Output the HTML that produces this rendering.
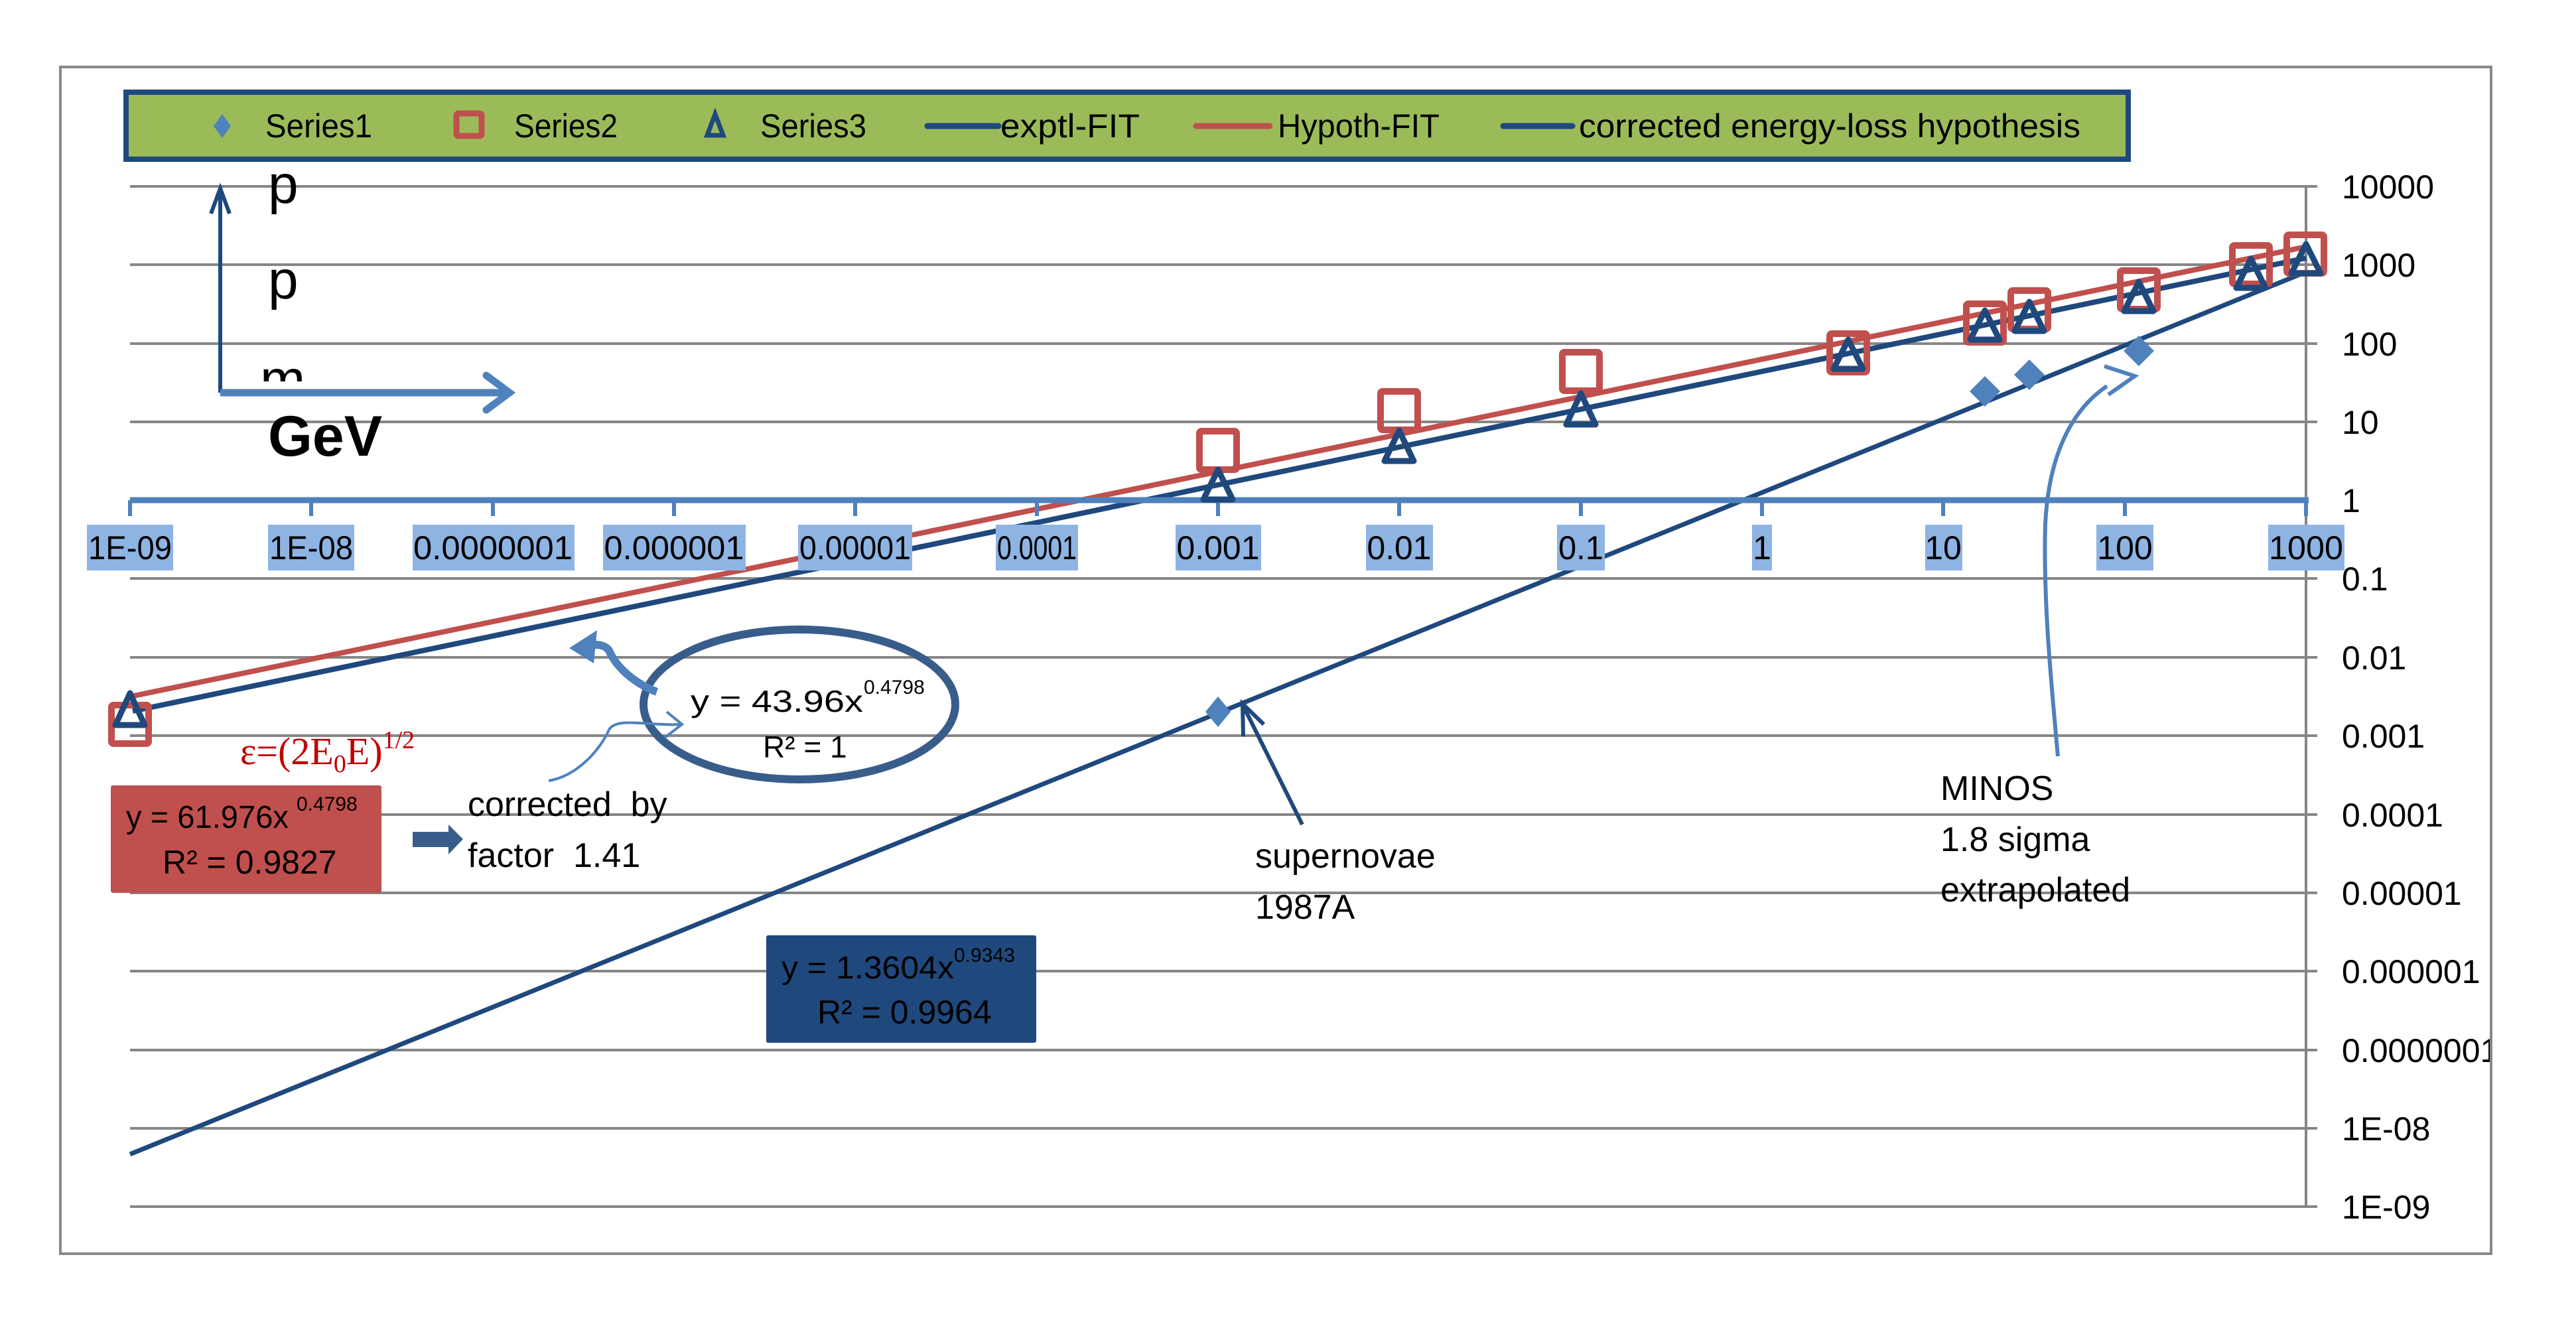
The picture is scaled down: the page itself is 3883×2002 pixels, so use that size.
<!DOCTYPE html>
<html><head><meta charset="utf-8"><style>
html,body{margin:0;padding:0;background:#fff;}
svg{display:block;font-family:"Liberation Sans",sans-serif;}
</style></head><body>
<svg width="3883" height="2002" viewBox="0 0 3883 2002" xmlns="http://www.w3.org/2000/svg">
<defs><clipPath id="fr"><rect x="91" y="101" width="3662" height="1789"/></clipPath></defs>
<rect x="91" y="101" width="3664" height="1789" fill="#fff" stroke="#888" stroke-width="4"/>
<!-- gridlines -->
<g stroke="#868686" stroke-width="4">
<line x1="196" y1="281" x2="3493" y2="281"/>
<line x1="196" y1="399" x2="3493" y2="399"/>
<line x1="196" y1="518" x2="3493" y2="518"/>
<line x1="196" y1="636" x2="3493" y2="636"/>
<line x1="196" y1="872" x2="3493" y2="872"/>
<line x1="196" y1="991" x2="3493" y2="991"/>
<line x1="196" y1="1109" x2="3493" y2="1109"/>
<line x1="196" y1="1228" x2="3493" y2="1228"/>
<line x1="196" y1="1346" x2="3493" y2="1346"/>
<line x1="196" y1="1464" x2="3493" y2="1464"/>
<line x1="196" y1="1583" x2="3493" y2="1583"/>
<line x1="196" y1="1701" x2="3493" y2="1701"/>
<line x1="196" y1="1819" x2="3493" y2="1819"/>
<line x1="3476" y1="281" x2="3476" y2="1819"/>
</g>
<!-- y labels -->
<g font-size="50" fill="#000" clip-path="url(#fr)">
<text x="3530" y="299">10000</text>
<text x="3530" y="417">1000</text>
<text x="3530" y="536">100</text>
<text x="3530" y="654">10</text>
<text x="3530" y="772">1</text>
<text x="3530" y="890">0.1</text>
<text x="3530" y="1009">0.01</text>
<text x="3530" y="1127">0.001</text>
<text x="3530" y="1246">0.0001</text>
<text x="3530" y="1364">0.00001</text>
<text x="3530" y="1482">0.000001</text>
<text x="3530" y="1601">0.0000001</text>
<text x="3530" y="1719">1E-08</text>
<text x="3530" y="1837">1E-09</text>
</g>
<!-- fit lines -->
<line x1="197" y1="1050" x2="3476" y2="372" stroke="#c0504d" stroke-width="8"/>
<line x1="200" y1="1072" x2="3476" y2="389" stroke="#1f497d" stroke-width="8"/>
<line x1="196" y1="1740" x2="3476" y2="410" stroke="#1f497d" stroke-width="7"/>
<!-- x axis -->
<line x1="196" y1="754" x2="3480" y2="754" stroke="#4f81bd" stroke-width="9"/>
<g stroke="#4f81bd" stroke-width="6">
<line x1="196" y1="754" x2="196" y2="778"/><line x1="469" y1="754" x2="469" y2="778"/>
<line x1="743" y1="754" x2="743" y2="778"/><line x1="1016" y1="754" x2="1016" y2="778"/>
<line x1="1289" y1="754" x2="1289" y2="778"/><line x1="1563" y1="754" x2="1563" y2="778"/>
<line x1="1836" y1="754" x2="1836" y2="778"/><line x1="2109" y1="754" x2="2109" y2="778"/>
<line x1="2383" y1="754" x2="2383" y2="778"/><line x1="2656" y1="754" x2="2656" y2="778"/>
<line x1="2929" y1="754" x2="2929" y2="778"/><line x1="3203" y1="754" x2="3203" y2="778"/>
<line x1="3476" y1="754" x2="3476" y2="778"/>
</g>
<g fill="#8eb4e3">
<rect x="131" y="791" width="130" height="69"/>
<rect x="404" y="791" width="130" height="69"/>
<rect x="622" y="791" width="244" height="69"/>
<rect x="909" y="791" width="215" height="69"/>
<rect x="1203" y="791" width="172" height="69"/>
<rect x="1501" y="791" width="124" height="69"/>
<rect x="1772" y="791" width="129" height="69"/>
<rect x="2059" y="791" width="101" height="69"/>
<rect x="2347" y="791" width="72" height="69"/>
<rect x="2641" y="791" width="30" height="69"/>
<rect x="2902" y="791" width="56" height="69"/>
<rect x="3160" y="791" width="86" height="69"/>
<rect x="3419" y="791" width="115" height="69"/>
</g>
<g font-size="50" fill="#000" text-anchor="middle">
<text x="196" y="843" textLength="126" lengthAdjust="spacingAndGlyphs">1E-09</text>
<text x="469" y="843" textLength="126" lengthAdjust="spacingAndGlyphs">1E-08</text>
<text x="743" y="843" textLength="240" lengthAdjust="spacingAndGlyphs">0.0000001</text>
<text x="1016" y="843" textLength="211" lengthAdjust="spacingAndGlyphs">0.000001</text>
<text x="1289" y="843" textLength="168" lengthAdjust="spacingAndGlyphs">0.00001</text>
<text x="1563" y="843" textLength="120" lengthAdjust="spacingAndGlyphs">0.0001</text>
<text x="1836" y="843" textLength="125" lengthAdjust="spacingAndGlyphs">0.001</text>
<text x="2109" y="843" textLength="97" lengthAdjust="spacingAndGlyphs">0.01</text>
<text x="2383" y="843" textLength="68" lengthAdjust="spacingAndGlyphs">0.1</text>
<text x="2656" y="843">1</text>
<text x="2929" y="843">10</text>
<text x="3203" y="843">100</text>
<text x="3476" y="843" textLength="112" lengthAdjust="spacingAndGlyphs">1000</text>
</g>
<!-- squares -->
<g fill="none" stroke="#c0504d" stroke-width="10">
<rect x="168" y="1063" width="56" height="58" rx="3"/>
<rect x="1808" y="650" width="56" height="58" rx="3"/>
<rect x="2081" y="590" width="56" height="58" rx="3"/>
<rect x="2355" y="531" width="56" height="58" rx="3"/>
<rect x="2758" y="503" width="56" height="58" rx="3"/>
<rect x="2964" y="458" width="56" height="58" rx="3"/>
<rect x="3031" y="438" width="56" height="58" rx="3"/>
<rect x="3196" y="408" width="56" height="58" rx="3"/>
<rect x="3365" y="370" width="56" height="58" rx="3"/>
<rect x="3447" y="354" width="56" height="58" rx="3"/>
</g>
<!-- triangles -->
<g fill="none" stroke="#1f497d" stroke-width="9" stroke-linejoin="round">
<polygon points="196,1045 174,1093 218,1093"/>
<polygon points="1836,708 1814,753 1858,753"/>
<polygon points="2109,649 2087,695 2131,695"/>
<polygon points="2383,593 2361,640 2405,640"/>
<polygon points="2786,512 2764,556 2808,556"/>
<polygon points="2992,468 2970,512 3014,512"/>
<polygon points="3059,455 3037,499 3081,499"/>
<polygon points="3224,425 3202,469 3246,469"/>
<polygon points="3393,390 3371,434 3415,434"/>
<polygon points="3476,368 3454,412 3498,412"/>
</g>
<!-- diamonds -->
<g fill="#4f81bd">
<polygon points="1836,1050 1855,1073 1836,1096 1817,1073"/>
<polygon points="2992,567 3015,590 2992,613 2969,590"/>
<polygon points="3059,542 3082,565 3059,588 3036,565"/>
<polygon points="3224,506 3247,529 3224,552 3201,529"/>
</g>
<!-- legend -->
<rect x="190" y="139" width="3018" height="101" fill="#9bbb59" stroke="#1f497d" stroke-width="8"/>
<polygon points="335,172 348,190 335,208 322,190" fill="#4f81bd"/>
<rect x="688" y="171" width="38" height="34" fill="none" stroke="#c0504d" stroke-width="9" rx="3"/>
<polygon points="1078,172 1066,204 1090,204" fill="none" stroke="#1f497d" stroke-width="7"/>
<line x1="1398" y1="190" x2="1505" y2="190" stroke="#1f497d" stroke-width="9" stroke-linecap="round"/>
<line x1="1803" y1="190" x2="1914" y2="190" stroke="#c0504d" stroke-width="9" stroke-linecap="round"/>
<line x1="2266" y1="190" x2="2370" y2="190" stroke="#1f497d" stroke-width="9" stroke-linecap="round"/>
<g font-size="50" fill="#000">
<text x="400" y="207" textLength="161" lengthAdjust="spacingAndGlyphs">Series1</text>
<text x="775" y="207" textLength="156" lengthAdjust="spacingAndGlyphs">Series2</text>
<text x="1146" y="207" textLength="160" lengthAdjust="spacingAndGlyphs">Series3</text>
<text x="1508" y="207" textLength="210" lengthAdjust="spacingAndGlyphs">exptl-FIT</text>
<text x="1926" y="207" textLength="244" lengthAdjust="spacingAndGlyphs">Hypoth-FIT</text>
<text x="2380" y="207" textLength="756" lengthAdjust="spacingAndGlyphs">corrected energy-loss hypothesis</text>
</g>
<!-- axis annotation -->
<g font-size="82" fill="#000">
<text x="404" y="306">p</text>
<text x="404" y="450">p</text>
<text x="392" y="600">m</text>
</g>
<rect x="380" y="575" width="160" height="40" fill="#fff"/>
<line x1="332" y1="290" x2="332" y2="592" stroke="#1f497d" stroke-width="6"/>
<polyline points="318,322 332,284 346,322" fill="none" stroke="#1f497d" stroke-width="6"/>
<line x1="332" y1="592" x2="770" y2="592" stroke="#4f81bd" stroke-width="11"/>
<polyline points="733,566 768,592 733,618" fill="none" stroke="#4f81bd" stroke-width="11" stroke-linecap="round"/>
<text x="404" y="687" font-size="86" font-weight="bold" fill="#000">GeV</text>
<!-- ellipse annotation -->
<ellipse cx="1205" cy="1062" rx="235" ry="113" fill="none" stroke="#385d8a" stroke-width="12"/>
<text x="1041" y="1073" font-size="46" fill="#000" textLength="260" lengthAdjust="spacingAndGlyphs">y = 43.96x</text>
<text x="1302" y="1046" font-size="30" fill="#000">0.4798</text>
<text x="1150" y="1142" font-size="46" fill="#000">R² = 1</text>
<path d="M990,1043 C955,1030 930,1005 920,985 C915,970 895,970 880,975" fill="none" stroke="#4f81bd" stroke-width="12"/>
<polygon points="858,977 900,950 895,1000" fill="#4f81bd"/>
<path d="M827,1177 C870,1170 905,1130 918,1100 C930,1080 980,1095 1028,1092" fill="none" stroke="#4f81bd" stroke-width="4"/>
<polyline points="1005,1073 1028,1092 1002,1112" fill="none" stroke="#4f81bd" stroke-width="4"/>
<!-- epsilon -->
<text x="362" y="1152" font-family="Liberation Serif,serif" font-size="58" fill="#c00000">ε=(2E<tspan font-size="38" dy="12">0</tspan><tspan dy="-12">E)</tspan><tspan font-size="38" dy="-24">1/2</tspan></text>
<!-- red box -->
<rect x="167" y="1184" width="408" height="162" fill="#c0504d" rx="3"/>
<text x="190" y="1248" font-size="48" fill="#000" textLength="245" lengthAdjust="spacingAndGlyphs">y = 61.976x</text>
<text x="447" y="1222" font-size="30" fill="#000">0.4798</text>
<text x="245" y="1317" font-size="50" fill="#000">R² = 0.9827</text>
<!-- fat arrow -->
<polygon points="622,1254 676,1254 676,1243 698,1265 676,1288 676,1277 622,1277" fill="#385d8a"/>
<text x="705" y="1230" font-size="52" fill="#000" xml:space="preserve">corrected  by</text>
<text x="705" y="1307" font-size="52" fill="#000" xml:space="preserve">factor  1.41</text>
<!-- blue box -->
<rect x="1155" y="1410" width="407" height="162" fill="#1f497d" rx="3"/>
<text x="1178" y="1475" font-size="48" fill="#000" textLength="260" lengthAdjust="spacingAndGlyphs">y = 1.3604x</text>
<text x="1438" y="1450" font-size="30" fill="#000">0.9343</text>
<text x="1232" y="1543" font-size="50" fill="#000">R² = 0.9964</text>
<!-- supernovae -->
<line x1="1963" y1="1243" x2="1876" y2="1068" stroke="#1f497d" stroke-width="6"/>
<polyline points="1874,1110 1873,1061 1905,1092" fill="none" stroke="#1f497d" stroke-width="6"/>
<text x="1892" y="1308" font-size="52" fill="#000">supernovae</text>
<text x="1892" y="1385" font-size="52" fill="#000">1987A</text>
<!-- MINOS -->
<path d="M3102,1140 C3090,1010 3080,900 3083,790 C3088,690 3120,620 3176,582" fill="none" stroke="#4f81bd" stroke-width="6"/>
<polyline points="3172,552 3218,567 3178,595" fill="none" stroke="#4f81bd" stroke-width="6"/>
<text x="2925" y="1206" font-size="52" fill="#000">MINOS</text>
<text x="2925" y="1283" font-size="52" fill="#000">1.8 sigma</text>
<text x="2925" y="1359" font-size="52" fill="#000">extrapolated</text>
</svg>
</body></html>
